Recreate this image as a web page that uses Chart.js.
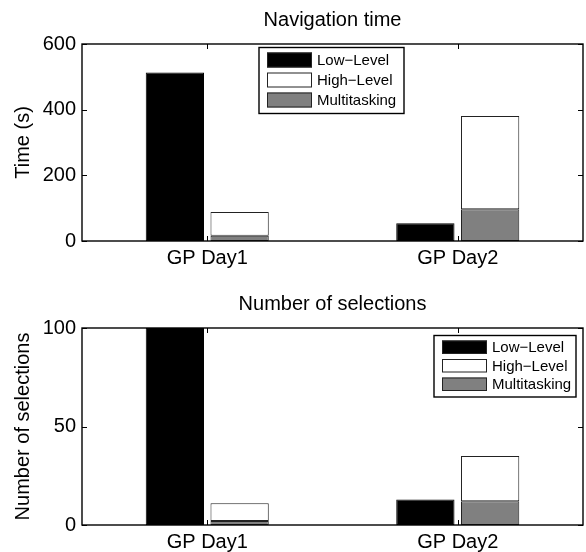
<!DOCTYPE html>
<html lang="en">
<head>
    <meta charset="UTF-8">
    <title>Navigation time / Number of selections</title>
    <script src="https://cdn.jsdelivr.net/npm/chart.js"></script>
    <style>
        body {
            margin: 0;
            background: #fff;
        }

        canvas {
            display: block;
        }
    </style>
</head>
<body>
    <canvas id="timeChart" width="586" height="284"></canvas>
    <canvas id="selChart" width="586" height="268"></canvas>

    <script>
        // data
        const categories = ["GP Day1", "GP Day2"];
        const seriesNames = ["Low\u2212Level", "High\u2212Level", "Multitasking"];

        const timeLow = [513, 54];
        const timeHigh = [72, 284];
        const timeMulti = [16, 97];
        const timeTicks = [0, 200, 400, 600];

        const selLow = [100, 13];
        const selHigh = [9, 23];
        const selMulti = [2, 12];
        const selTicks = [0, 50, 100];

        Chart.defaults.font.family = '"Liberation Sans", Arial, Helvetica, sans-serif';
        Chart.defaults.color = "#000";

        // MATLAB style box round the plot, ticks pointing inward
        const boxAxes = {
            id: "boxAxes",
            afterDatasetsDraw(chart) {
                const { ctx, chartArea: a, scales } = chart;
                const x = scales.x, y = scales.y;
                ctx.save();
                ctx.strokeStyle = "#000";
                ctx.lineWidth = 1;
                ctx.beginPath();
                y.ticks.forEach(t => {
                    const py = Math.round(y.getPixelForValue(t.value)) + 0.5;
                    ctx.moveTo(a.left, py); ctx.lineTo(a.left + 5, py);
                    ctx.moveTo(a.right, py); ctx.lineTo(a.right - 5, py);
                });
                x.ticks.forEach((t, i) => {
                    const px = Math.round(x.getPixelForTick(i)) + 0.5;
                    ctx.moveTo(px, a.bottom); ctx.lineTo(px, a.bottom - 5);
                    ctx.moveTo(px, a.top); ctx.lineTo(px, a.top + 5);
                });
                ctx.stroke();
                ctx.lineWidth = 1.4;
                ctx.strokeRect(a.left, a.top, a.right - a.left, a.bottom - a.top);
                ctx.restore();
            }
        };

        // title centred over the plot box
        const boxTitle = {
            id: "boxTitle",
            afterDraw(chart, args, opts) {
                const { ctx, chartArea: a } = chart;
                ctx.save();
                ctx.font = '20px "Liberation Sans", Arial, sans-serif';
                ctx.fillStyle = "#000";
                ctx.textAlign = "center";
                ctx.textBaseline = "middle";
                ctx.fillText(opts.text, (a.left + a.right) / 2, 20);
                ctx.restore();
            }
        };

        // legend box inside the plot area
        const boxLegend = {
            id: "boxLegend",
            afterDraw(chart, args, opts) {
                const { ctx, chartArea: a } = chart;
                const ds = chart.data.datasets;
                const order = [0, 2, 1];
                const w = opts.width, h = opts.pitch * 3 + 6;
                const left = opts.align === "right" ? a.right - opts.margin - w : (a.left + a.right) / 2 - w / 2 - 1;
                const top = a.top + opts.top;
                ctx.save();
                ctx.fillStyle = "#fff";
                ctx.fillRect(left, top, w, h);
                ctx.lineWidth = 1.4;
                ctx.strokeStyle = "#000";
                ctx.strokeRect(left, top, w, h);
                ctx.font = '15px "Liberation Sans", Arial, sans-serif';
                ctx.textBaseline = "middle";
                order.forEach((k, i) => {
                    const sy = top + 5 + i * opts.pitch;
                    ctx.fillStyle = ds[k].backgroundColor;
                    ctx.fillRect(left + 8, sy, 45, opts.pitch - 5);
                    ctx.lineWidth = 1;
                    ctx.strokeStyle = "#222";
                    ctx.strokeRect(left + 8.5, sy + 0.5, 44, opts.pitch - 6);
                    ctx.fillStyle = "#000";
                    ctx.fillText(ds[k].label, left + 58, sy + (opts.pitch - 5) / 2 + 1);
                });
                ctx.restore();
            }
        };

        function makeChart(id, low, high, multi, ticks, yTitle, title, xHeight, legendOpts) {
            return new Chart(document.getElementById(id), {
                type: "bar",
                data: {
                    labels: categories,
                    datasets: [
                        { label: seriesNames[0], data: low, stack: "a", backgroundColor: "#000", borderColor: "#000" },
                        { label: seriesNames[2], data: multi, stack: "b", backgroundColor: "#808080", borderColor: "#222" },
                        { label: seriesNames[1], data: high, stack: "b", backgroundColor: "#fff", borderColor: "#222" }
                    ]
                },
                options: {
                    responsive: false,
                    animation: false,
                    categoryPercentage: 0.517,
                    barPercentage: 0.9,
                    borderWidth: 1,
                    borderSkipped: false,
                    layout: { padding: { top: 44, right: 3, left: 0, bottom: 0 } },
                    plugins: {
                        legend: { display: false },
                        tooltip: { enabled: false },
                        boxTitle: { text: title },
                        boxLegend: legendOpts
                    },
                    scales: {
                        x: {
                            stacked: true,
                            grid: { display: false, drawTicks: false },
                            border: { display: false },
                            ticks: { font: { size: 20 }, padding: 5 },
                            afterFit(scale) { scale.height = xHeight; }
                        },
                        y: {
                            stacked: true,
                            min: ticks[0],
                            max: ticks[ticks.length - 1],
                            afterBuildTicks(scale) { scale.ticks = ticks.map(v => ({ value: v })); },
                            grid: { display: false, drawTicks: false },
                            border: { display: false },
                            ticks: { font: { size: 20 }, padding: 6 },
                            title: { display: true, text: yTitle, font: { size: 20 }, padding: { top: 11, bottom: 0 } },
                            afterFit(scale) { scale.width = 82; }
                        }
                    }
                },
                plugins: [boxAxes, boxTitle, boxLegend]
            });
        }

        makeChart("timeChart", timeLow, timeHigh, timeMulti, timeTicks, "Time (s)", "Navigation time", 43,
            { align: "center", top: 3.5, width: 145, pitch: 20 });
        makeChart("selChart", selLow, selHigh, selMulti, selTicks, "Number of selections", "Number of selections", 27,
            { align: "right", top: 7.5, width: 142, margin: 7, pitch: 18.5 });
    </script>
</body>
</html>
